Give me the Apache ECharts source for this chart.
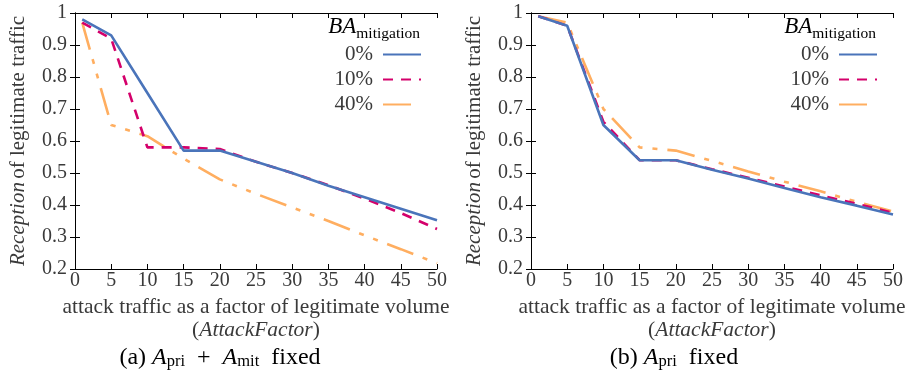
<!DOCTYPE html>
<html>
<head>
<meta charset="utf-8">
<script src="https://cdn.jsdelivr.net/npm/echarts@6/dist/echarts.min.js"></script>
<style>
  html, body { margin: 0; padding: 0; background: #fff; }
  .wrap { position: relative; width: 913px; height: 375px; }
  .chart { position: absolute; top: 0; width: 456px; height: 375px; }
</style>
</head>
<body>
<div class="wrap">
  <div id="chartA" class="chart" style="left:0"></div>
  <div id="chartB" class="chart" style="left:456px"></div>
</div>
<script>
const attackFactor = [1, 5, 10, 15, 20, 25, 30, 35, 40, 45, 50]
const seriesNames = ['0%', '10%', '40%']

// (a) A_pri + A_mit fixed
const fixedBoth0 = [0.98, 0.93, 0.75, 0.57, 0.57, 0.535, 0.50, 0.46, 0.424, 0.388, 0.352]
const fixedBoth10 = [0.97, 0.92, 0.58, 0.58, 0.575, 0.535, 0.50, 0.462, 0.42, 0.375, 0.325]
const fixedBoth40 = [0.97, 0.65, 0.615, 0.545, 0.48, 0.435, 0.392, 0.35, 0.305, 0.262, 0.218]

// (b) A_pri fixed
const fixedPri0 = [0.99, 0.96, 0.65, 0.54, 0.54, 0.51, 0.483, 0.453, 0.424, 0.398, 0.37]
const fixedPri10 = [0.99, 0.96, 0.66, 0.54, 0.54, 0.512, 0.485, 0.458, 0.43, 0.404, 0.375]
const fixedPri40 = [0.99, 0.97, 0.70, 0.58, 0.57, 0.538, 0.505, 0.473, 0.443, 0.41, 0.38]

const xTicks = [0, 50, 5]
const yTicks = [0.2, 1, 0.1]

const FONT = 'Liberation Serif'
const TEXT = '#3a3a3a'
const colors = ['#4a74ba', '#d4006b', '#ffae60']
const dashes = ['solid', [10, 8], [28, 10, 5, 10, 5, 10]]

function pairs(ys) {
  return attackFactor.map((x, i) => [x, ys[i]])
}

function buildOption(values, caption, captionX) {
  const series = values.map((ys, i) => ({
    name: seriesNames[i],
    type: 'line',
    data: pairs(ys),
    symbol: 'none',
    z: 3 - i,
    lineStyle: { color: colors[i], width: 2.6, type: dashes[i] },
    itemStyle: { color: colors[i] }
  }))
  return {
    animation: false,
    grid: { left: 70, right: 19, top: 13, bottom: 106 },
    legend: {
      data: seriesNames,
      orient: 'vertical',
      right: 34,
      top: 42,
      padding: 0,
      align: 'right',
      itemWidth: 38,
      itemHeight: 14,
      itemGap: 0,
      itemStyle: { opacity: 0 },
      textStyle: { fontFamily: FONT, fontSize: 21, color: TEXT, lineHeight: 25, padding: [0, 5, 0, 0] }
    },
    xAxis: [
      {
        type: 'value', min: xTicks[0], max: xTicks[1], interval: xTicks[2],
        axisLine: { lineStyle: { color: '#000', width: 1 } },
        axisTick: { inside: true, length: 5, lineStyle: { color: '#000' } },
        splitLine: { show: false },
        axisLabel: { fontFamily: FONT, fontSize: 20, color: TEXT, margin: 2 },
        name: '{n|attack traffic as a factor of legitimate volume}\n{n|(}{i|AttackFactor}{n|)}',
        nameLocation: 'middle',
        nameGap: 15,
        nameTextStyle: {
          align: 'center',
          verticalAlign: 'top',
          rich: {
            n: { fontFamily: FONT, fontSize: 21.5, color: TEXT, lineHeight: 23, align: 'center' },
            i: { fontFamily: FONT, fontSize: 21.5, color: TEXT, fontStyle: 'italic', lineHeight: 23 }
          }
        }
      },
      {
        type: 'value', position: 'top', min: xTicks[0], max: xTicks[1], interval: xTicks[2],
        axisLine: { show: true, lineStyle: { color: '#000', width: 1 } },
        axisTick: { inside: true, length: 5, lineStyle: { color: '#000' } },
        axisLabel: { show: false },
        splitLine: { show: false }
      }
    ],
    yAxis: [
      {
        type: 'value', min: yTicks[0], max: yTicks[1], interval: yTicks[2],
        axisLine: { show: true, lineStyle: { color: '#000', width: 1 } },
        axisTick: { show: true, inside: true, length: 5, lineStyle: { color: '#000' } },
        splitLine: { show: false },
        axisLabel: {
          fontFamily: FONT, fontSize: 20, color: TEXT, margin: 8,
          formatter: v => String(Math.round(v * 10) / 10)
        },
        name: '{i|Reception} {n|of legitimate traffic}',
        nameLocation: 'middle',
        nameRotate: 90,
        nameGap: 46,
        nameTextStyle: {
          rich: {
            n: { fontFamily: FONT, fontSize: 21, color: TEXT },
            i: { fontFamily: FONT, fontSize: 21, color: TEXT, fontStyle: 'italic' }
          }
        }
      },
      {
        type: 'value', position: 'right', min: yTicks[0], max: yTicks[1], interval: yTicks[2],
        axisLine: { show: true, lineStyle: { color: '#000', width: 1 } },
        axisTick: { show: true, inside: true, length: 5, lineStyle: { color: '#000' } },
        axisLabel: { show: false },
        splitLine: { show: false }
      }
    ],
    graphic: [
      {
        type: 'text',
        right: 36,
        top: 15,
        style: {
          text: '{b|BA}{s|mitigation}',
          rich: {
            b: { fontFamily: FONT, fontSize: 23, fontStyle: 'italic', color: TEXT, verticalAlign: 'bottom' },
            s: { fontFamily: FONT, fontSize: 15.5, color: TEXT, verticalAlign: 'bottom', padding: [0, 0, -4, 0] }
          }
        }
      },
      {
        type: 'text',
        x: captionX,
        y: 358,
        style: {
          text: caption,
          align: 'center',
          verticalAlign: 'middle',
          rich: {
            n: { fontFamily: FONT, fontSize: 24, color: TEXT },
            a: { fontFamily: FONT, fontSize: 24, color: TEXT, fontStyle: 'italic' },
            s: { fontFamily: FONT, fontSize: 16.5, color: TEXT, padding: [0, 0, -8, 0] }
          }
        }
      }
    ],
    series: series
  }
}

const chartA = echarts.init(document.getElementById('chartA'))
chartA.setOption(buildOption([fixedBoth0, fixedBoth10, fixedBoth40],
  '{n|(a) }{a|A}{s|pri}{n|  +  }{a|A}{s|mit}{n|  fixed}', 220))

const chartB = echarts.init(document.getElementById('chartB'))
chartB.setOption(buildOption([fixedPri0, fixedPri10, fixedPri40],
  '{n|(b) }{a|A}{s|pri}{n|  fixed}', 218))
</script>
</body>
</html>
